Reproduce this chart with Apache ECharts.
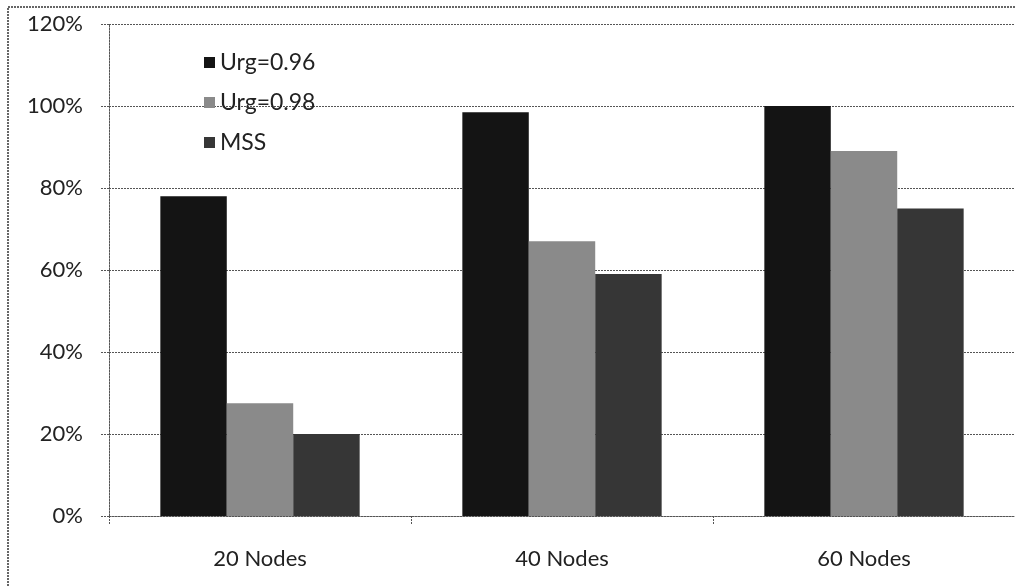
<!DOCTYPE html>
<html>
<head>
<meta charset="utf-8">
<script src="https://cdn.jsdelivr.net/npm/echarts@6/dist/echarts.min.js"></script>
<style>
  html, body { margin: 0; padding: 0; background: #fff; }
  #chart { width: 1015px; height: 587px; }
</style>
</head>
<body>
<div id="chart"></div>
<script>
// chart data
var categories = ['20 Nodes', '40 Nodes', '60 Nodes']
var urg096 = [78, 98.5, 100]
var urg098 = [27.5, 67, 89]
var mss = [20, 59, 75]
var seriesNames = ['Urg=0.96', 'Urg=0.98', 'MSS']

var chart = echarts.init(document.getElementById('chart'))
var font = 'Lato, "Open Sans", sans-serif'
var dotted = { color: '#555', type: [2, 1], width: 1 }

chart.setOption({
  animation: false,
  backgroundColor: '#fff',
  textStyle: { fontFamily: font },
  graphic: [{
    type: 'rect',
    shape: { x: 8, y: 7, width: 1020, height: 600 },
    style: { fill: 'none', stroke: '#666', lineWidth: 2, lineDash: [2, 1] },
    silent: true
  }],
  legend: {
    orient: 'vertical',
    left: 199,
    top: 46,
    itemWidth: 11,
    itemHeight: 11,
    itemGap: 17,
    icon: 'rect',
    textStyle: { fontSize: 23, color: '#222', fontFamily: font },
    data: seriesNames
  },
  grid: { left: 109, top: 24, right: -8, bottom: 71 },
  xAxis: {
    type: 'category',
    data: categories,
    axisLine: { lineStyle: dotted },
    axisTick: { show: true, length: 8, lineStyle: dotted },
    axisLabel: { fontSize: 22, color: '#222', margin: 32, fontFamily: font }
  },
  yAxis: {
    type: 'value',
    min: 0,
    max: 120,
    interval: 20,
    axisLine: { show: true, lineStyle: dotted },
    axisTick: { show: true, length: 8, lineStyle: dotted },
    splitLine: { lineStyle: dotted },
    axisLabel: {
      fontSize: 22, color: '#222', margin: 26, fontFamily: font,
      formatter: '{value}%'
    }
  },
  series: [
    { name: seriesNames[0], type: 'bar', data: urg096, barGap: '0%', barCategoryGap: '34%',
      itemStyle: { color: '#141414' } },
    { name: seriesNames[1], type: 'bar', data: urg098,
      itemStyle: { color: '#8a8a8a' } },
    { name: seriesNames[2], type: 'bar', data: mss,
      itemStyle: { color: '#363636' } }
  ]
})
</script>
</body>
</html>
